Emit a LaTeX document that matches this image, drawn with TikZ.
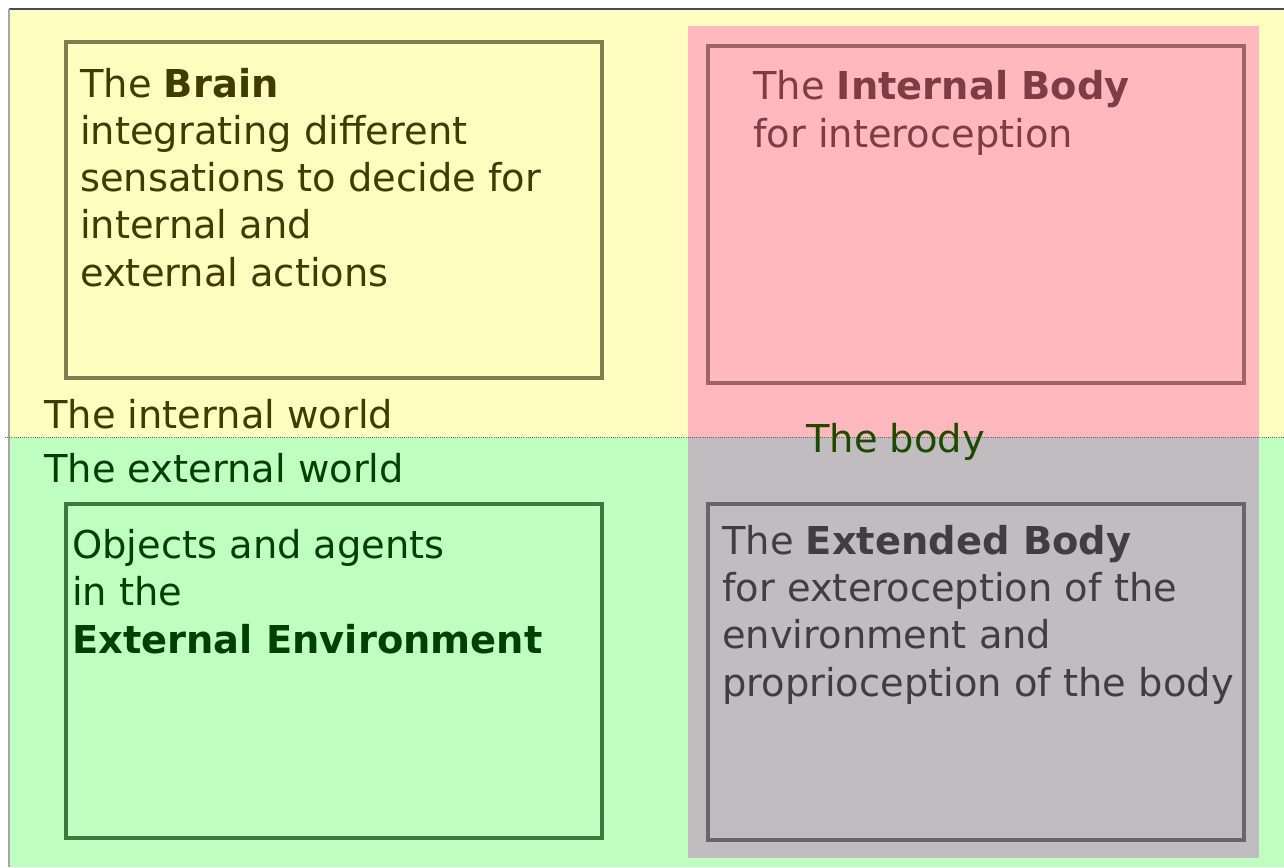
\documentclass[tikz,border=0pt]{standalone}
\usepackage{fontspec}
\setmainfont{DejaVu Sans}
\definecolor{inyellow}{HTML}{FFFDC0}
\definecolor{exgreen}{HTML}{BFFFBF}
\definecolor{bodypink}{HTML}{FFB8BE}
\definecolor{bodygray}{HTML}{C0BCC0}
\definecolor{brainline}{HTML}{807E50}
\definecolor{braintext}{HTML}{403C00}
\definecolor{intline}{HTML}{A0626A}
\definecolor{inttext}{HTML}{803C44}
\definecolor{envline}{HTML}{3E783E}
\definecolor{envtext}{HTML}{004000}
\definecolor{extline}{HTML}{66646C}
\definecolor{exttext}{HTML}{403E44}
\definecolor{bodytext}{HTML}{1E4A00}
\begin{document}
\begin{tikzpicture}[x=0.75pt, y=-0.75pt,
  box/.style={line width=2.4pt},
  txt/.style={anchor=base west, inner sep=0pt, align=left,
    font=\fontsize{28.8}{35.4}\selectfont}]
  \useasboundingbox (0,0) rectangle (1284,867);
  % the two worlds
  \fill[inyellow] (9,9) rectangle (1284,437);
  \fill[exgreen] (9,437) rectangle (1284,867);
  \draw[line width=1pt, black!70] (9,9) -- (1284,9);
  \draw[line width=1pt, black!35] (9,9) -- (9,867);
  % the body
  \fill[bodypink] (688,26) rectangle (1259,437);
  \fill[bodygray] (688,437) rectangle (1259,858);
  \draw[densely dotted, line width=0.6pt, black!60] (5,437) -- (1284,437);
  % the four boxes
  \draw[box, brainline] (66,42) rectangle (602,378);
  \draw[box, intline] (708,46) rectangle (1244,383);
  \draw[box, envline] (66,504) rectangle (602,838);
  \draw[box, extline] (708,504) rectangle (1244,840);
  % texts (anchored at the baseline of the last line)
  \node[txt, text=braintext] (brain) at (80,286)
    {The \textbf{Brain}\\integrating different\\sensations to decide for\\internal and\\external actions};
  \node[txt, text=inttext] (intbody) at (753,147)
    {The \textbf{Internal Body}\\for interoception};
  \node[txt, text=envtext] (env) at (72,653)
    {Objects and agents\\in the\\\textbf{External Environment}};
  \node[txt, text=exttext] (extbody) at (722,696)
    {The \textbf{Extended Body}\\for exteroception of the\\environment and\\proprioception of the body};
  \node[txt, text=braintext] (inworld) at (44,428) {The internal world};
  \node[txt, text=envtext] (exworld) at (44,482) {The external world};
  \node[txt, text=bodytext] (body) at (806,452) {The body};
\end{tikzpicture}
\end{document}
